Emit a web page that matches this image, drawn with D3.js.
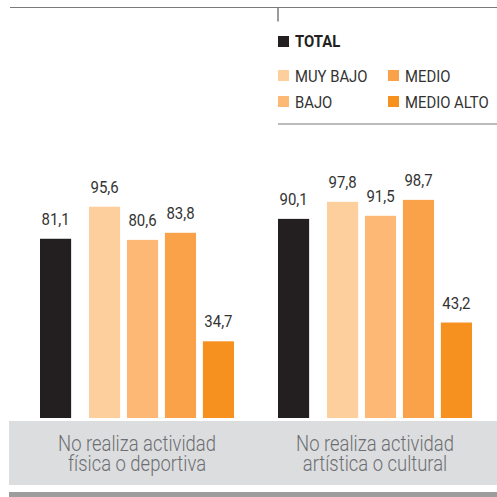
<!DOCTYPE html>
<html>
<head>
<meta charset="utf-8">
<script src="https://cdn.jsdelivr.net/npm/d3@7"></script>
<style>
  body { margin: 0; background: #fff; }
  svg { display: block; }
  text { font-family: Roboto, "Liberation Sans", sans-serif; }
</style>
</head>
<body>
<svg id="chart" width="497" height="497"></svg>
<script>
const categories = [
  ["No realiza actividad", "física o deportiva"],
  ["No realiza actividad", "artística o cultural"]
]
const levels = ["MUY BAJO", "BAJO", "MEDIO", "MEDIO ALTO"]
const totalValues = [81.1, 90.1]
const levelValues = [
  [95.6, 80.6, 83.8, 34.7],
  [97.8, 91.5, 98.7, 43.2]
]

const colors = {
  "TOTAL": "#231f20",
  "MUY BAJO": "#fdcf9d",
  "BAJO": "#fcb874",
  "MEDIO": "#f9a24a",
  "MEDIO ALTO": "#f6901e"
}

const svg = d3.select("#chart")
const W = 497

// condensed look: squeeze text horizontally around its anchor point
function place(sel, fx, fy, sx) {
  return sel.attr("transform", (d, i) => `translate(${fx(d, i)},${fy(d, i)}) scale(${sx},1)`)
}

// frame lines / bands
svg.append("line").attr("x1", 10).attr("x2", W).attr("y1", 7.5).attr("y2", 7.5)
  .attr("stroke", "#7a7a7a").attr("stroke-width", 1.2)
svg.append("line").attr("x1", 278).attr("x2", 278).attr("y1", 7.5).attr("y2", 21.5)
  .attr("stroke", "#7a7a7a").attr("stroke-width", 1.5)
svg.append("line").attr("x1", 278).attr("x2", W).attr("y1", 124).attr("y2", 124)
  .attr("stroke", "#7a7a7a").attr("stroke-width", 1.2)
svg.append("rect").attr("x", 9).attr("y", 421).attr("width", W - 9).attr("height", 64)
  .attr("fill", "#dcdddf")
svg.append("rect").attr("x", 9).attr("y", 492).attr("width", W - 9).attr("height", 5)
  .attr("fill", "#9d9d9d")

// scales
const y = d3.scaleLinear().domain([0, 100]).range([418, 197])
const x0 = d3.scaleBand().domain(d3.range(categories.length)).range([40, 516])
const xLev = d3.scaleBand().domain(levels).range([49, 194]).paddingInner(0.18)
const bw = xLev.bandwidth()

const groups = svg.selectAll("g.grp")
  .data(categories.map((c, i) => ({
    lines: c,
    bars: [{ key: "TOTAL", x: 0, v: totalValues[i] }]
      .concat(levels.map((l, j) => ({ key: l, x: xLev(l), v: levelValues[i][j] })))
  })))
  .enter()
  .append("g")
  .attr("class", "grp")
  .attr("transform", (d, i) => `translate(${x0(i)},0)`)

groups.selectAll("rect")
  .data(d => d.bars)
  .enter()
  .append("rect")
  .attr("x", d => d.x)
  .attr("y", d => y(d.v))
  .attr("width", bw)
  .attr("height", d => y(0) - y(d.v))
  .attr("fill", d => colors[d.key])

place(groups.selectAll("text.val")
  .data(d => d.bars)
  .enter()
  .append("text")
  .attr("class", "val")
  .attr("text-anchor", "middle")
  .attr("font-size", 17)
  .attr("fill", "#333")
  .text(d => d3.format(".1f")(d.v).replace(".", ",")),
  d => d.x + bw / 2, d => y(d.v) - 14, 0.88)

place(groups.selectAll("text.cat")
  .data(d => d.lines)
  .enter()
  .append("text")
  .attr("class", "cat")
  .attr("text-anchor", "middle")
  .attr("font-size", 22.5)
  .attr("font-weight", 300)
  .attr("fill", "#6d6e71")
  .text(d => d),
  () => 97, (d, i) => 451 + i * 20, 0.82)

// legend
const legend = svg.append("g")
legend.append("rect").attr("x", 278).attr("y", 36).attr("width", 11).attr("height", 11)
  .attr("fill", colors["TOTAL"])
place(legend.append("text").attr("font-size", 16.5).attr("font-weight", "bold")
  .attr("fill", "#231f20").text("TOTAL"), () => 295, () => 47, 0.9)

const legPos = [[278, 70], [278, 96], [388, 70], [388, 96]]
const items = legend.selectAll("g.item")
  .data(levels)
  .enter()
  .append("g")
  .attr("transform", (d, i) => `translate(${legPos[i][0]},${legPos[i][1]})`)
items.append("rect").attr("width", 11).attr("height", 11).attr("fill", d => colors[d])
place(items.append("text").attr("font-size", 16.5).attr("fill", "#333").text(d => d),
  () => 17, () => 11.5, 0.9)
</script>
</body>
</html>
